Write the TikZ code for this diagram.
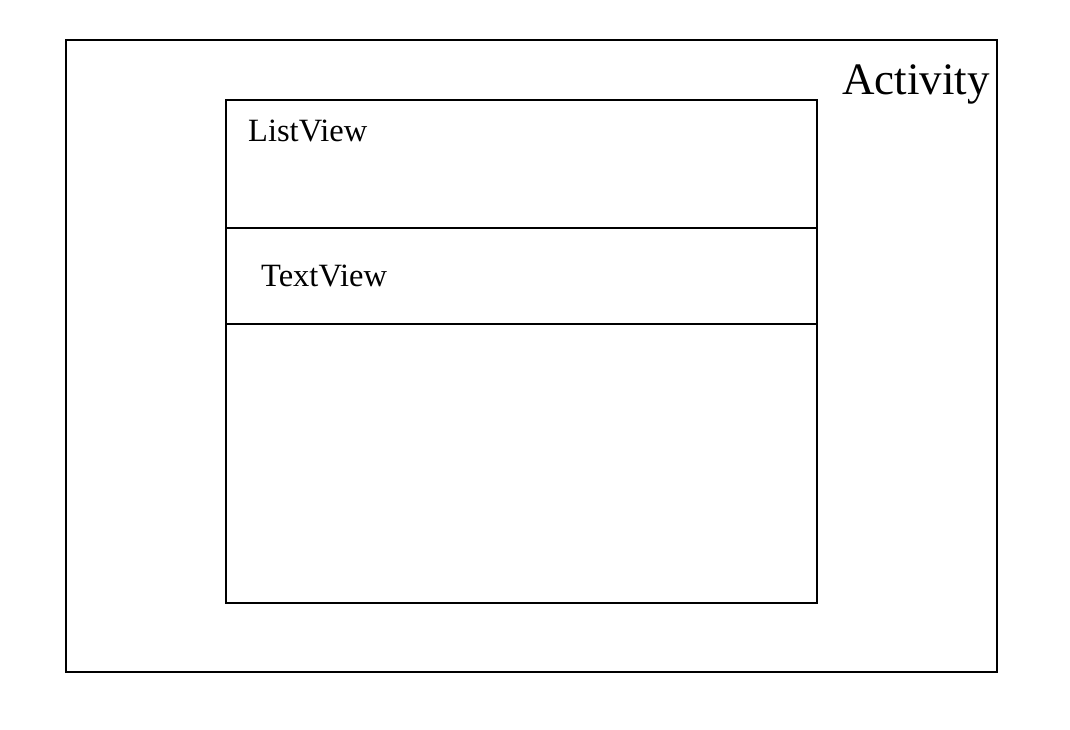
\documentclass[tikz,border=0pt]{standalone}
\usepackage{fontspec}
\setmainfont{Liberation Serif}
\begin{document}
\begin{tikzpicture}[x=1pt,y=-1pt,
  box/.style={draw=black,line width=2.6pt},
  lbl/.style={anchor=base west,inner sep=0pt,font=\fontsize{32.5}{38}\selectfont}]
\useasboundingbox (0,0) rectangle (1070,730);
\fill[white] (0,0) rectangle (1070,730);
\draw[box] (66,40) rectangle (997,672);
\coordinate (outerNW) at (66,40);
\draw[box] (226,100) rectangle (817,603);
\draw[box] (226,228) coordinate (l1a) -- (817,228) coordinate (l1b);
\draw[box] (226,324) coordinate (l2a) -- (817,324) coordinate (l2b);
\node[lbl,font=\fontsize{45}{52}\selectfont] (activity) at (842,95) {Activity};
\node[lbl] (listview) at (248,142) {ListView};
\node[lbl] (textview) at (261,286) {TextView};
\end{tikzpicture}
\end{document}
